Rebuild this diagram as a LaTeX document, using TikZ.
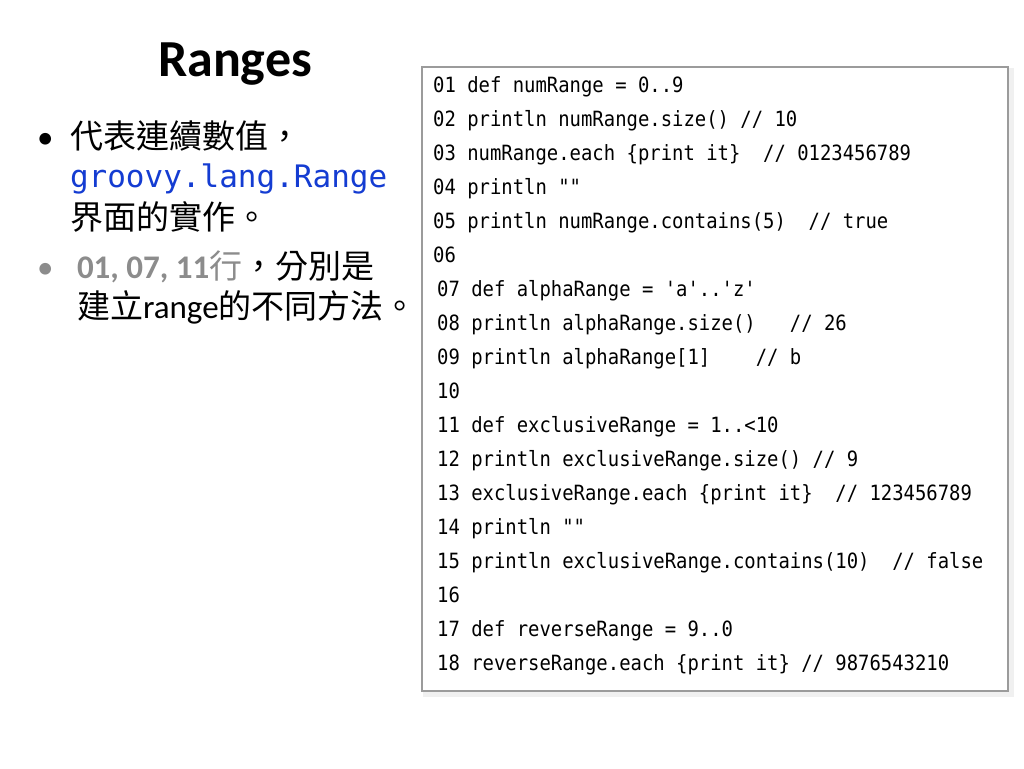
\documentclass[tikz,border=0pt]{standalone}
\usepackage{fontspec}
\setmainfont{Carlito}
\newfontfamily\cjk{Noto Sans CJK TC}
\newfontfamily\monof{DejaVu Sans Mono}
\newfontfamily\codef[Ligatures=TeXOff,FakeStretch=0.9]{DejaVu Sans Mono}
\definecolor{codeblue}{RGB}{20,60,210}
\definecolor{graytxt}{RGB}{140,140,140}
\definecolor{boxborder}{RGB}{155,155,155}
\tikzset{
  txt/.style={anchor=base west, inner sep=0pt, outer sep=0pt},
  codeline/.style={anchor=base west, inner sep=0pt, font=\codef\fontsize{21pt}{26pt}\selectfont},
  bul/.style={anchor=base west, inner sep=0pt, font=\fontsize{33pt}{36pt}\selectfont}
}
\begin{document}
\begin{tikzpicture}[x=1pt,y=-1pt]
\useasboundingbox (0,0) rectangle (1024,768);
\fill[white] (0,0) rectangle (1024,768);
% title
\node[anchor=base, inner sep=0pt, font=\bfseries\fontsize{52pt}{56pt}\selectfont] (title) at (235,77) {Ranges};
% bullets
\node[bul] (b1) at (37,148) {\textbullet};
\node[txt, font=\cjk\fontsize{33pt}{36pt}\selectfont] (l1) at (70,148) {代表連續數值，};
\node[txt, font=\monof\fontsize{31pt}{34pt}\selectfont, text=codeblue] (l2) at (70,187) {groovy.lang.Range};
\node[txt, font=\cjk\fontsize{33pt}{36pt}\selectfont] (l3) at (70,229) {界面的實作。};
\node[bul, text=graytxt] (b2) at (37,278) {\textbullet};
\node[txt, font=\fontsize{33pt}{36pt}\selectfont] (l4) at (77,278) {\textcolor{graytxt}{{\bfseries 01, 07, 11}{\cjk 行}}{\cjk ，分別是}};
\node[txt, font=\fontsize{33pt}{36pt}\selectfont] (l5) at (77,318) {{\cjk 建立}range{\cjk 的不同方法。}};
% code box
\fill[black!12] (425,70) rectangle (1012,695);
\fill[black!6] (423,68) rectangle (1014,697);
\draw[boxborder, line width=2.5pt, fill=white] (422,67) rectangle (1008,691);
\node[codeline] (c1) at (433,92) {01 def numRange = 0..9};
\node[codeline] (c2) at (433,126) {02 println numRange.size() // 10};
\node[codeline] (c3) at (433,160) {03 numRange.each \{print it\}~~// 0123456789};
\node[codeline] (c4) at (433,194) {04 println ""};
\node[codeline] (c5) at (433,228) {05 println numRange.contains(5)~~// true};
\node[codeline] (c6) at (433,262) {06};
\node[codeline] (c7) at (437,296) {07 def alphaRange = 'a'..'z'};
\node[codeline] (c8) at (437,330) {08 println alphaRange.size()~~~// 26};
\node[codeline] (c9) at (437,364) {09 println alphaRange[1]~~~~// b};
\node[codeline] (c10) at (437,398) {10};
\node[codeline] (c11) at (437,432) {11 def exclusiveRange = 1..<10};
\node[codeline] (c12) at (437,466) {12 println exclusiveRange.size() // 9};
\node[codeline] (c13) at (437,500) {13 exclusiveRange.each \{print it\}~~// 123456789};
\node[codeline] (c14) at (437,534) {14 println ""};
\node[codeline] (c15) at (437,568) {15 println exclusiveRange.contains(10)~~// false};
\node[codeline] (c16) at (437,602) {16};
\node[codeline] (c17) at (437,636) {17 def reverseRange = 9..0};
\node[codeline] (c18) at (437,670) {18 reverseRange.each \{print it\} // 9876543210};
\end{tikzpicture}
\end{document}
